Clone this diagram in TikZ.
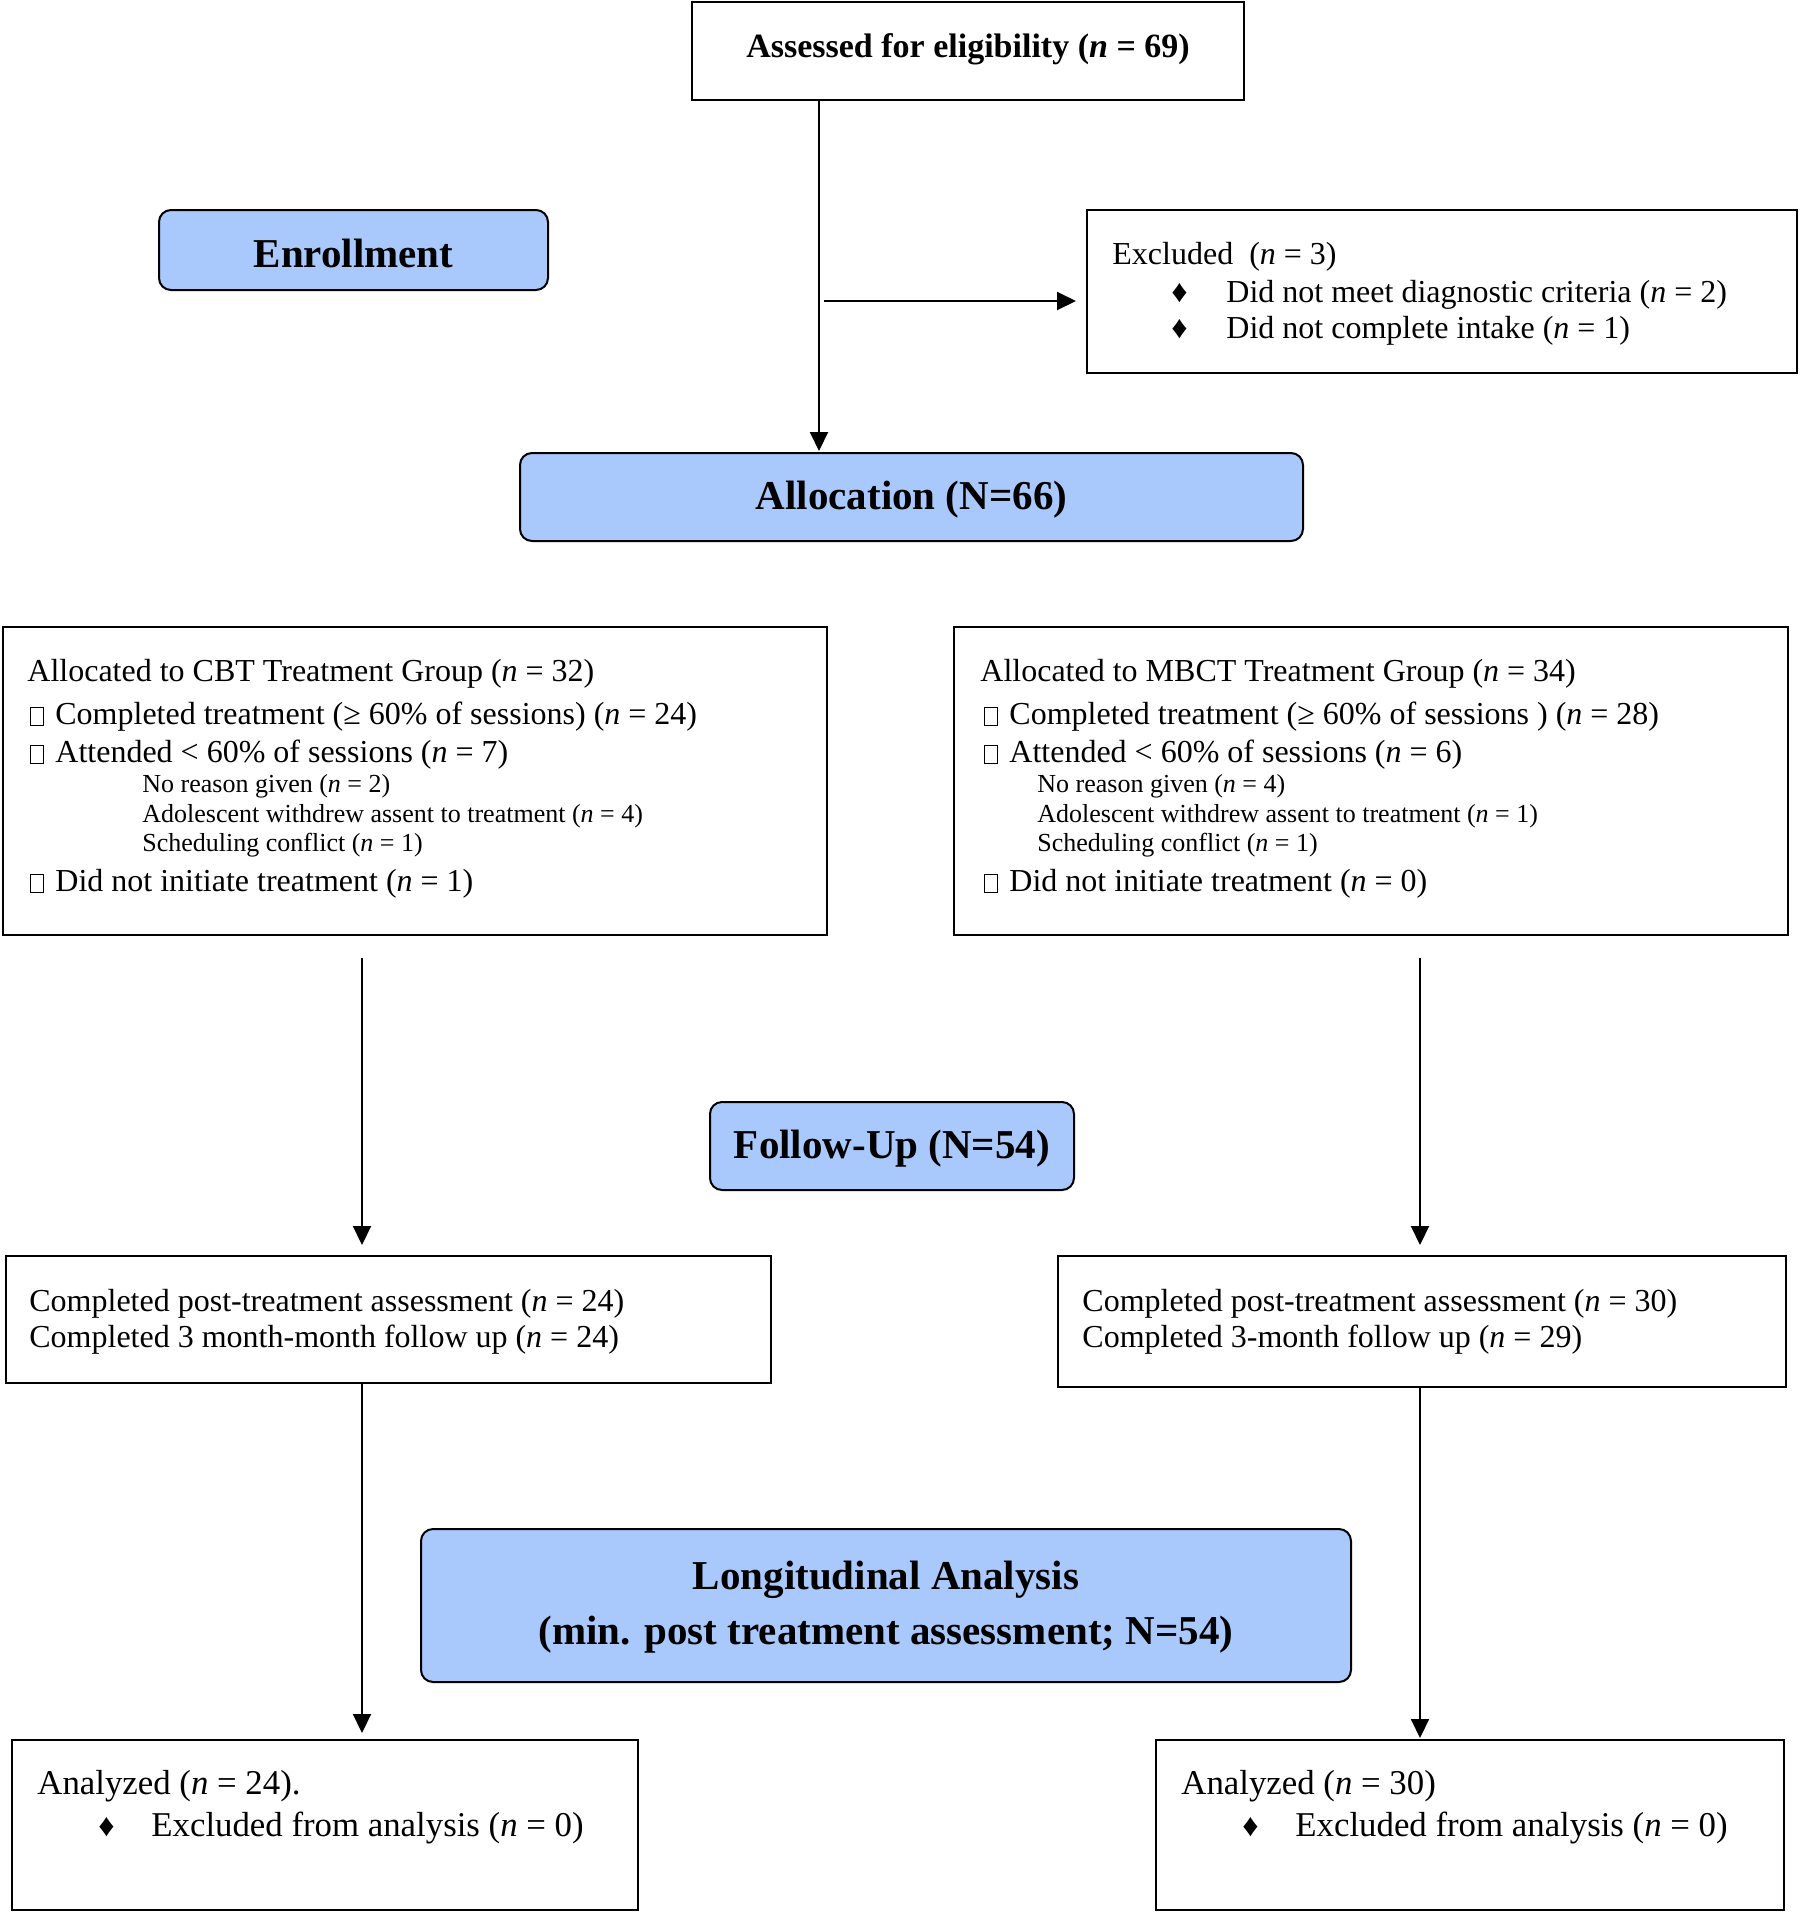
\documentclass[tikz,border=0pt]{standalone}
\usepackage{fontspec}
\setmainfont{Liberation Serif}
\usetikzlibrary{arrows.meta}
\definecolor{hdrblue}{HTML}{A9C8FC}
\newcommand{\nn}{\textit{n}}
\newcommand{\cbox}{{\fboxsep=0pt\fboxrule=0.5pt\fbox{\rule{0pt}{8.5pt}\hspace{6pt}}}\hspace{5.5pt}}
\begin{document}
\begin{tikzpicture}[x=0.5pt,y=-0.5pt,
  box/.style={draw, line width=1pt, inner sep=0pt, outer sep=0pt},
  rbox/.style={box, rounded corners=6pt, fill=hdrblue},
  txt/.style={anchor=mid west, inner sep=0pt, yshift=-3pt, font=\fontsize{16}{19}\selectfont},
  smalltxt/.style={anchor=mid west, inner sep=0pt, yshift=-2.5pt, font=\fontsize{13}{15}\selectfont},
  bigtxt/.style={anchor=mid west, inner sep=0pt, yshift=-3pt, font=\fontsize{17.4}{20}\selectfont},
  head/.style={inner sep=0pt, yshift=-1.5pt, font=\fontsize{20.5}{24}\selectfont\bfseries},
  arr/.style={-{Triangle[length=9.5pt,width=9pt]}, line width=1pt},
  dia/.style={anchor=mid west, inner sep=0pt, yshift=-3pt, font=\fontsize{16}{18}\selectfont}
]
\useasboundingbox (0,0) rectangle (1800,1913);

% boxes
\node[box, minimum width=276pt, minimum height=49pt] (top) at (968,51) {};
\node[rbox, minimum width=194.5pt, minimum height=40pt] (enr) at (353.5,250) {};
\node[box, minimum width=355pt, minimum height=81.5pt] (excl) at (1442,291.5) {};
\node[rbox, minimum width=391.5pt, minimum height=44pt] (alloc) at (911.5,497) {};
\node[box, minimum width=412pt, minimum height=154pt] (cbt) at (414.5,781) {};
\node[box, minimum width=417pt, minimum height=154pt] (mbct) at (1371,781) {};
\node[rbox, minimum width=182pt, minimum height=44pt] (fu) at (892,1146) {};
\node[box, minimum width=382.5pt, minimum height=63.5pt] (postl) at (388.5,1319.5) {};
\node[box, minimum width=364pt, minimum height=65.5pt] (postr) at (1422,1321.5) {};
\node[rbox, minimum width=465pt, minimum height=76.5pt] (long) at (886,1605.5) {};
\node[box, minimum width=313pt, minimum height=85pt] (anl) at (325,1825) {};
\node[box, minimum width=314pt, minimum height=85pt] (anr) at (1470,1825) {};

% header texts
\node[inner sep=0pt, yshift=-1.5pt, font=\fontsize{17}{20}\selectfont\bfseries] (toptxt) at (968,46) {Assessed for eligibility (\nn{} = 69)};
\node[head] (enrtxt) at (353.5,250) {Enrollment};
\node[head] (alloctxt) at (911.5,497) {Allocation (N=66)};
\node[head] (futxt) at (892,1146) {Follow-Up (N=54)};
\node[head] (longa) at (886,1577) {Longitudinal Analysis};
\node[head] (longb) at (886,1632) {(min. post treatment assessment; N=54)};

% excluded
\node[txt] (ex0) at (1112,254) {Excluded\ \ (\nn{} = 3)};
\node[dia] (exd1) at (1171,292) {♦};
\node[txt] (ex1) at (1226,292) {Did not meet diagnostic criteria (\nn{} = 2)};
\node[dia] (exd2) at (1171,328) {♦};
\node[txt] (ex2) at (1226,328) {Did not complete intake (\nn{} = 1)};

% CBT
\node[txt] (c0) at (27,671) {Allocated to CBT Treatment Group (\nn{} = 32)};
\node[txt] (c1) at (30,714) {\cbox Completed treatment (≥ 60\% of sessions) (\nn{} = 24)};
\node[txt] (c2) at (30,752) {\cbox Attended < 60\% of sessions (\nn{} = 7)};
\node[smalltxt] (c3) at (142,783) {No reason given (\nn{} = 2)};
\node[smalltxt] (c4) at (142,813) {Adolescent withdrew assent to treatment (\nn{} = 4)};
\node[smalltxt] (c5) at (142,842) {Scheduling conflict (\nn{} = 1)};
\node[txt] (c6) at (30,881) {\cbox Did not initiate treatment (\nn{} = 1)};

% MBCT
\node[txt] (m0) at (980,671) {Allocated to MBCT Treatment Group (\nn{} = 34)};
\node[txt] (m1) at (984,714) {\cbox Completed treatment (≥ 60\% of sessions ) (\nn{} = 28)};
\node[txt] (m2) at (984,752) {\cbox Attended < 60\% of sessions (\nn{} = 6)};
\node[smalltxt] (m3) at (1037,783) {No reason given (\nn{} = 4)};
\node[smalltxt] (m4) at (1037,813) {Adolescent withdrew assent to treatment (\nn{} = 1)};
\node[smalltxt] (m5) at (1037,842) {Scheduling conflict (\nn{} = 1)};
\node[txt] (m6) at (984,881) {\cbox Did not initiate treatment (\nn{} = 0)};

% post
\node[txt] (pl1) at (29,1301) {Completed post-treatment assessment (\nn{} = 24)};
\node[txt] (pl2) at (29,1337) {Completed 3 month-month follow up (\nn{} = 24)};
\node[txt] (pr1) at (1082,1301) {Completed post-treatment assessment (\nn{} = 30)};
\node[txt] (pr2) at (1082,1337) {Completed 3-month follow up (\nn{} = 29)};

% analyzed
\node[bigtxt] (al1) at (37,1784) {Analyzed (\nn{} = 24).};
\node[dia] (ald) at (98,1826) {♦};
\node[bigtxt] (al2) at (151,1826) {Excluded from analysis (\nn{} = 0)};
\node[bigtxt] (ar1) at (1181,1784) {Analyzed (\nn{} = 30)};
\node[dia] (ard) at (1242,1826) {♦};
\node[bigtxt] (ar2) at (1295,1826) {Excluded from analysis (\nn{} = 0)};

% connectors
\coordinate (xl) at (819,0);
\coordinate (hs) at (824,301);
\coordinate (cl) at (362,0);
\coordinate (cr) at (1420,0);
\draw[arr] (top.south -| xl) -- ([yshift=1pt]alloc.north -| xl);
\draw[arr, shorten >=5.5pt] (hs) -- (excl.west |- hs);
\draw[arr, shorten <=11.5pt, shorten >=5.5pt] (cbt.south -| cl) -- (postl.north -| cl);
\draw[arr, shorten <=11.5pt, shorten >=5.5pt] (mbct.south -| cr) -- (postr.north -| cr);
\draw[arr, shorten >=3.5pt] (postl.south -| cl) -- (anl.north -| cl);
\draw[arr, shorten >=1pt] (postr.south -| cr) -- (anr.north -| cr);
\end{tikzpicture}
\end{document}
